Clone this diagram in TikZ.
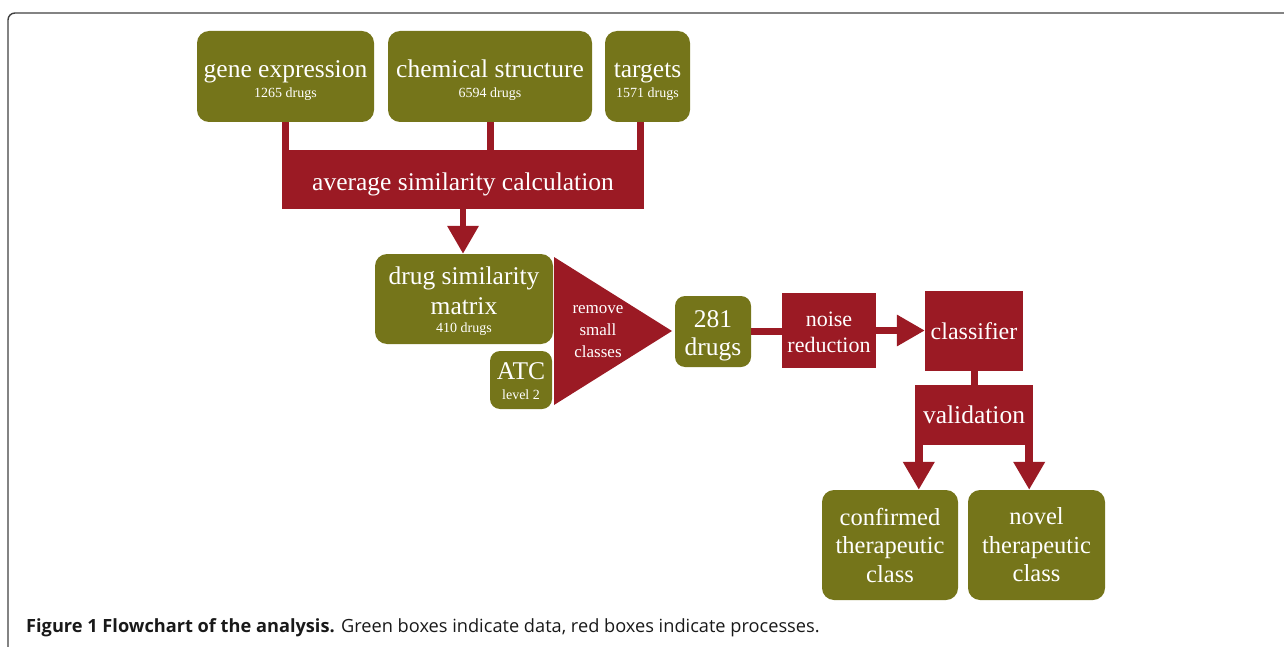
\documentclass[tikz,border=0pt]{standalone}
\usepackage{fontspec}
\setmainfont{Liberation Serif}
\newfontfamily\capfont{Open Sans}
\usetikzlibrary{arrows.meta}
\definecolor{datagreen}{RGB}{117,117,26}
\definecolor{procred}{RGB}{155,26,36}
\newcommand\cnt[1]{{\fontsize{14}{16}\selectfont#1}}
\newcommand\tall[1]{\rule{0pt}{#1}}
\begin{document}
\begin{tikzpicture}[x=1pt,y=-1pt,every node/.style={font=\fontsize{25.5}{29}\selectfont,text=white,align=center,inner sep=0pt},
	data/.style={fill=datagreen,rounded corners=12pt},
	proc/.style={fill=procred},
	bar/.style={procred,line width=7pt},
	arr/.style={procred,line width=6.5pt,-{Triangle[width=30pt,length=28pt]}}]
	\useasboundingbox(0,0)rectangle(1284,647);
	\draw[black!75,line width=1.4pt,rounded corners=7pt](8,647)--(8,13)--(1284,13);
	% data sources
	\node[data,minimum width=177pt,minimum height=91pt](gene)at(285.5,76.5){\tall{26pt}gene expression\\[-9pt]\cnt{1265 drugs}};
	\node[data,minimum width=204pt,minimum height=91pt](chem)at(490,76.5){\tall{26pt}chemical structure\\[-9pt]\cnt{6594 drugs}};
	\node[data,minimum width=85pt,minimum height=91pt](targets)at(647.5,76.5){\tall{26pt}targets\\[-9pt]\cnt{1571 drugs}};
	\node[proc,minimum width=362pt,minimum height=59pt,text height=27pt,text depth=6pt](avg)at(463,179.5){average similarity calculation};
	\draw[bar](gene.south)--(gene.south|-avg.north);
	\draw[bar](chem.south)--(chem.south|-avg.north);
	\draw[bar]([xshift=-3.5pt]avg.north east)--([xshift=-3.5pt]avg.north east|-targets.south);
	% matrix and filtering
	\node[data,minimum width=178pt,minimum height=90pt](sim)at(464,299){\tall{23pt}drug similarity\\[1pt]matrix\\[-11pt]\cnt{410 drugs}};
	\node[data,minimum width=62pt,minimum height=58pt,rounded corners=10pt](atc)at(521,380){\tall{20pt}ATC\\[-9pt]\cnt{level 2}};
	\draw[arr](avg.south)--(avg.south|-sim.north);
	\coordinate(T1)at(554,257);
	\coordinate(T2)at(554,405);
	\coordinate(T3)at(672,331);
	\fill[procred](T1)--(T3)--(T2)--cycle;
	\node[font=\fontsize{17}{22}\selectfont](rsc)at(598,331.5){remove\\small\\classes};
	\node[data,minimum width=76pt,minimum height=71pt,rounded corners=10pt](num)at(713,331.5){\tall{24.5pt}281\\[-1pt]drugs};
	% classification
	\node[proc,minimum width=94pt,minimum height=75pt,font=\fontsize{22}{26}\selectfont](noise)at(829,330.5){\tall{19pt}noise\\reduction};
	\node[proc,minimum width=98pt,minimum height=80pt,font=\fontsize{24}{28}\selectfont](cls)at(974,331){classifier};
	\node[proc,minimum width=118pt,minimum height=60pt](val)at(974,415){validation};
	\draw[bar](num.east)--(num.east-|noise.west);
	\draw[arr](noise.east)--(noise.east-|cls.west);
	\draw[bar](cls.south)--(val.north);
	\node[data,minimum width=136pt,minimum height=110pt,font=\fontsize{24.5}{28.5}\selectfont](conf)at(890,545){confirmed\\therapeutic\\class};
	\node[data,minimum width=137pt,minimum height=110pt,font=\fontsize{24.5}{28.5}\selectfont](novel)at(1036.5,545){novel\\therapeutic\\class};
	\draw[arr,line width=8pt]([xshift=4pt]val.south west)--([xshift=4pt]val.south west|-conf.north);
	\draw[arr,line width=8pt]([xshift=-4pt]val.south east)--([xshift=-4pt]val.south east|-novel.north);
	% caption
	\node[anchor=base west,text=black!90,font=\capfont\fontsize{18.2}{20}\selectfont](cap)at(26,632){\textbf{Figure 1 Flowchart of the analysis.} Green boxes indicate data, red boxes indicate processes.};
\end{tikzpicture}
\end{document}
